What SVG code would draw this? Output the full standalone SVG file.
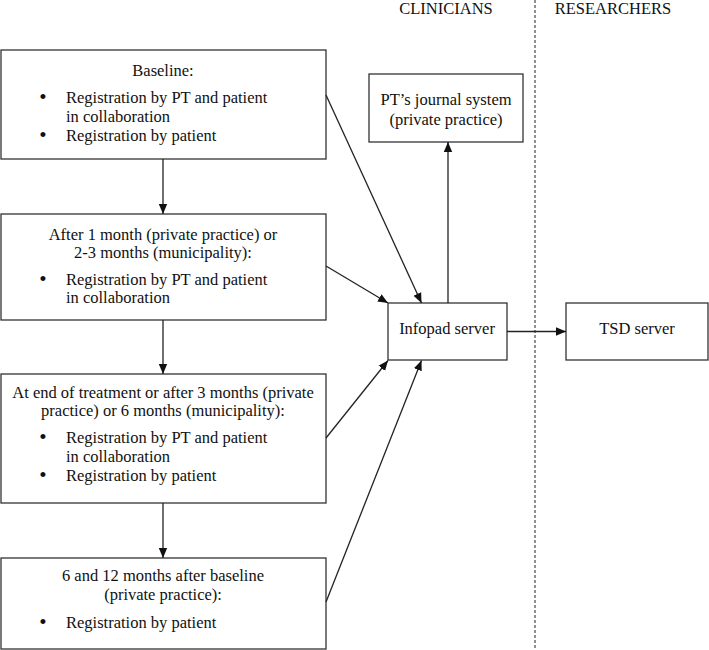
<svg xmlns="http://www.w3.org/2000/svg" width="709" height="650" viewBox="0 0 709 650">
<style>
text{font-family:"Liberation Serif","Times New Roman",serif;font-size:16.5px;fill:#111}
.c{text-anchor:middle}
.b{font-size:21px;text-anchor:middle}
.box{fill:#fff;stroke:#333;stroke-width:1.3}
.con{stroke:#222;stroke-width:1.3;fill:none;marker-end:url(#ah)}
</style>
<defs>
<marker id="ah" viewBox="0 0 10 10" refX="10" refY="5" markerWidth="10" markerHeight="10" markerUnits="userSpaceOnUse" orient="auto">
<path d="M0,0.8 L10,5 L0,9.2 Z" fill="#111"/>
</marker>
</defs>
<rect width="709" height="650" fill="#fff"/>
<line x1="535" y1="0" x2="535" y2="650" stroke="#222" stroke-width="1" stroke-dasharray="3,2"/>
<text class="c" x="446" y="14">CLINICIANS</text>
<text class="c" x="613" y="14">RESEARCHERS</text>
<g id="baseline">
<rect class="box" x="1" y="50" width="325" height="109"/>
<text class="c" x="163" y="76">Baseline:</text>
<text class="b" x="43" y="104">•</text><text x="66" y="103">Registration by PT and patient</text>
<text x="66" y="122">in collaboration</text>
<text class="b" x="43" y="142">•</text><text x="66" y="141">Registration by patient</text>
</g>
<g id="after1">
<rect class="box" x="1" y="214" width="325" height="106"/>
<text class="c" x="163" y="240">After 1 month (private practice) or</text>
<text class="c" x="163" y="258">2-3 months (municipality):</text>
<text class="b" x="43" y="286">•</text><text x="66" y="285">Registration by PT and patient</text>
<text x="66" y="303">in collaboration</text>
</g>
<g id="endtreat">
<rect class="box" x="1" y="374" width="325" height="129"/>
<text class="c" x="163" y="398">At end of treatment or after 3 months (private</text>
<text class="c" x="163" y="416">practice) or 6 months (municipality):</text>
<text class="b" x="43" y="444">•</text><text x="66" y="443">Registration by PT and patient</text>
<text x="66" y="462">in collaboration</text>
<text class="b" x="43" y="482">•</text><text x="66" y="481">Registration by patient</text>
</g>
<g id="followup">
<rect class="box" x="1" y="558" width="325" height="91"/>
<text class="c" x="163" y="581">6 and 12 months after baseline</text>
<text class="c" x="163" y="600">(private practice):</text>
<text class="b" x="43" y="629">•</text><text x="66" y="628">Registration by patient</text>
</g>
<g id="journal">
<rect class="box" x="369" y="74" width="154" height="68"/>
<text class="c" x="446" y="105">PT’s journal system</text>
<text class="c" x="446" y="125">(private practice)</text>
</g>
<g id="infopad">
<rect class="box" x="388" y="303" width="119" height="57"/>
<text class="c" x="447" y="334">Infopad server</text>
</g>
<g id="tsd">
<rect class="box" x="566" y="303" width="142" height="57"/>
<text class="c" x="637" y="334">TSD server</text>
</g>
<g id="connectors">
<line class="con" x1="163" y1="159" x2="163" y2="214"/>
<line class="con" x1="163" y1="320" x2="163" y2="374"/>
<line class="con" x1="163" y1="503" x2="163" y2="558"/>
<line class="con" x1="326" y1="95" x2="421.5" y2="303"/>
<line class="con" x1="326" y1="266" x2="388" y2="303"/>
<line class="con" x1="326" y1="438" x2="388" y2="360.5"/>
<line class="con" x1="326" y1="602" x2="421.5" y2="360.5"/>
<line class="con" x1="448" y1="303" x2="448" y2="142"/>
<line class="con" x1="507" y1="331.5" x2="566" y2="331.5"/>
</g>
</svg>
